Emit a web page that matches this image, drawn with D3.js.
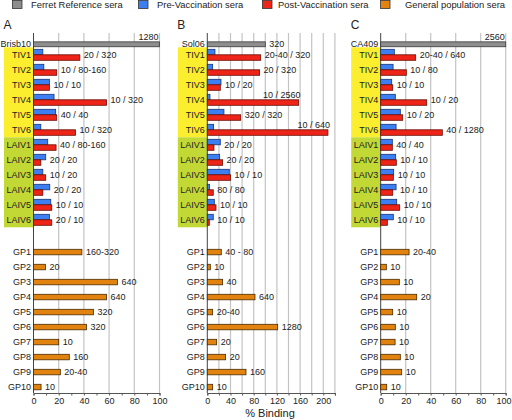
<!DOCTYPE html>
<html><head><meta charset="utf-8">
<script src="https://cdn.jsdelivr.net/npm/d3@7"></script>
<style>
html,body{margin:0;padding:0;background:#fff;}
text{font-family:"Liberation Sans",Arial,sans-serif;fill:#222;}
</style></head>
<body>
<svg id="chart" width="512" height="420"></svg>
<script>
// ---------- DATA ----------
const panelLetters = ["A", "B", "C"];
const refNames = ["Brisb10", "Sol06", "CA409"];
const refValues = [100, 100, 100];
const refTiters = ["1280", "320", "2560"];
const vaccinees = ["TIV1","TIV2","TIV3","TIV4","TIV5","TIV6","LAIV1","LAIV2","LAIV3","LAIV4","LAIV5","LAIV6"];
const gpNames = ["GP1","GP2","GP3","GP4","GP5","GP6","GP7","GP8","GP9","GP10"];

const preA  = [7.4, 8.2, 12.6, 16.3, 17.6, 5.8, 11.3, 9.7, 7.4, 12.9, 13.7, 12.6];
const postA = [36.8, 18.4, 12.6, 58, 18.4, 33.4, 17.9, 5.8, 9.7, 7.4, 14.5, 14.5];
const titersA = ["20 / 320","10 / 80-160","10 / 10","10 / 320","40 / 40","10 / 320","40 / 80-160","20 / 20","10 / 20","20 / 20","10 / 10","20 / 10"];
const gpA = [38.4, 9.5, 66.6, 57.9, 47.6, 42.1, 20, 28.4, 21.3, 6];
const gpTitersA = ["160-320","20","640","640","320","320","10","160","20-40","10"];

const preB  = [13.2, 9.2, 23.6, 4.6, 28.7, 10.9, 22.4, 21.3, 37.9, 4, 12.1, 10.3];
const postB = [92, 90.2, 22.4, 157.5, 57.5, 208, 11.5, 26.4, 40.2, 10.3, 15, 3.4];
const titersB = ["20-40 / 320","20 / 320","10 / 20","10 / 2560","320 / 320","10 / 640","20 / 20","20 / 20","10 / 10","80 / 80","10 / 10","10 / 10"];
const gpB = [24.1, 5.2, 26.4, 82.2, 9.2, 121.3, 16.1, 31.6, 66.7, 9.2];
const gpTitersB = ["40 - 80","10","40","640","20-40","1280","20","20","160","10"];

const preC  = [10.9, 9.9, 8.8, 11.7, 15.7, 12.3, 9.3, 12, 10.4, 12.3, 12.8, 10.1];
const postC = [28, 20.5, 9.6, 36.8, 17.6, 49.3, 9.3, 12.5, 10.1, 9.6, 15.2, 5.3];
const titersC = ["20-40 / 640","10 / 80","10 / 10","10 / 20","10 / 20","40 / 1280","40 / 40","10 / 10","10 / 10","10 / 10","10 / 10","10 / 10"];
const gpC = [22.7, 4.5, 14.9, 28.8, 9.6, 11.7, 11.5, 15.7, 16.8, 4.8];
const gpTitersC = ["20-40","10","10","20","10","10","10","10","10","10"];

const axisMax = [100, 220, 100];
const tickValues = [[0,20,40,60,80,100],[0,40,80,120,160,200],[0,20,40,60,80,100]];
const legendLabels = ["Ferret Reference sera","Pre-Vaccination sera","Post-Vaccination sera","General population sera"];

// ---------- STYLE / LAYOUT ----------
const colors = {
  ref:  {fill:"#8e8e8e", stroke:"#3a3a3a"},
  pre:  {fill:"#3b7ff2", stroke:"#15337a"},
  post: {fill:"#ee2418", stroke:"#6a0d08"},
  gp:   {fill:"#e3830f", stroke:"#4a2a00"}
};
const yellow = "#fbee2e", green = "#c2d935";
const panelX = [[33.5, 159.5], [207.3, 334.9], [380.7, 505.7]];
const gridTop = 33, axisY = 393;
const barH = 5.5;

const pre = [preA, preB, preC], post = [postA, postB, postC], titers = [titersA, titersB, titersC];
const gp = [gpA, gpB, gpC], gpTiters = [gpTitersA, gpTitersB, gpTitersC];

// slot -> y
const y = d3.scaleLinear().domain([0, 1]).range([54.8, 69.8]);
const refSlot = -0.7;
const vacSlot = i => i;
const gpSlot = i => 13.15 + i;

const svg = d3.select("#chart");
const FONT = '"Liberation Sans", Arial, sans-serif';

const measure = svg.append("text").attr("font-size", 9).attr("x", -1000).attr("y", -1000);
function textW(s) { measure.text(s); return measure.node().getComputedTextLength(); }

// ---------- LEGEND ----------
const legendX = [12, 138, 262, 380];
const legendKeys = ["ref", "pre", "post", "gp"];
const legendTextX = [31, 157, 278, 405];
legendLabels.forEach((lab, i) => {
  svg.append("rect").attr("x", legendX[i] + 0.5).attr("y", 0.5).attr("width", 9.5).attr("height", 8)
    .attr("fill", colors[legendKeys[i]].fill).attr("stroke", "#333").attr("stroke-width", 0.8);
  svg.append("text").attr("x", legendTextX[i]).attr("y", 8).attr("font-size", 9.4).text(lab);
});

// ---------- PANELS ----------
panelLetters.forEach((letter, p) => {
  const x = d3.scaleLinear().domain([0, axisMax[p]]).range(panelX[p]);
  const g = svg.append("g");
  const x0 = x(0), xEnd = x(axisMax[p]);

  g.append("text").attr("x", x0 - 30).attr("y", 29).attr("font-size", 12).text(letter);

  // group boxes
  g.append("rect").attr("x", x0 - 29.5).attr("width", 29.5)
    .attr("y", y(vacSlot(0)) - 7.5).attr("height", y(vacSlot(5)) - y(vacSlot(0)) + 15).attr("fill", yellow);
  g.append("rect").attr("x", x0 - 29.5).attr("width", 29.5)
    .attr("y", y(vacSlot(6)) - 7.5).attr("height", y(vacSlot(11)) - y(vacSlot(6)) + 15).attr("fill", green);

  // gridlines
  const grid = d3.range(20, axisMax[p] + 0.001, 20);
  g.selectAll(".grid").data(grid).enter().append("line")
    .attr("x1", d => x(d)).attr("x2", d => x(d)).attr("y1", gridTop).attr("y2", axisY)
    .attr("stroke", "#c4c4c4").attr("stroke-width", 1.2);

  // bottom axis
  const minorStep = p === 1 ? 20 : 10;
  const ax = d3.axisBottom(x).tickValues(d3.range(0, axisMax[p] + 0.001, minorStep))
    .tickSize(2.5).tickFormat(d => tickValues[p].includes(d) ? d : "");
  const axG = g.append("g").attr("transform", `translate(0,${axisY})`).call(ax);
  axG.select(".domain").attr("stroke", "#555");
  axG.selectAll(".tick line").attr("stroke", "#555");
  axG.selectAll(".tick text").attr("font-size", 9).attr("font-family", FONT).attr("fill", "#222").attr("dy", "0.6em")
    .attr("dx", function(d) {
      // keep the last label inside the picture
      const px = x(d), w = this.getComputedTextLength();
      return px + w / 2 > 511 ? (511 - w / 2 - px) : 0;
    });

  // vertical axis line
  g.append("line").attr("x1", x0).attr("x2", x0).attr("y1", gridTop).attr("y2", axisY)
    .attr("stroke", "#444").attr("stroke-width", 1);

  const rowLabel = (txt, yy) => g.append("text").attr("x", x0 - 2.5).attr("y", yy)
    .attr("text-anchor", "end").attr("dominant-baseline", "central").attr("font-size", 9).text(txt);

  function valueLabel(txt, barEnd, barTop, yy) {
    const w = textW(txt);
    if (barEnd + 4 + w > xEnd + 2) {
      g.append("text").attr("x", Math.min(barEnd + 2, xEnd - 1)).attr("y", barTop - 1.5)
        .attr("text-anchor", "end").attr("font-size", 9).text(txt);
    } else {
      g.append("text").attr("x", barEnd + 4).attr("y", yy)
        .attr("dominant-baseline", "central").attr("font-size", 9).text(txt);
    }
  }

  function bar(v, yTop, h, key) {
    g.append("rect").attr("x", x0).attr("y", yTop).attr("width", Math.max(0, x(v) - x0)).attr("height", h)
      .attr("fill", colors[key].fill).attr("stroke", colors[key].stroke).attr("stroke-width", 0.8);
  }

  const ry = y(refSlot);
  bar(refValues[p], ry - barH / 2 + 0.3, barH - 0.6, "ref");
  rowLabel(refNames[p], ry);
  valueLabel(refTiters[p], x(refValues[p]), ry - barH / 2, ry);

  vaccinees.forEach((name, i) => {
    const cy = y(vacSlot(i));
    bar(pre[p][i], cy - barH, barH, "pre");
    bar(post[p][i], cy, barH, "post");
    rowLabel(name, cy);
    const mx = Math.max(pre[p][i], post[p][i]);
    const top = post[p][i] >= pre[p][i] ? cy : cy - barH;
    valueLabel(titers[p][i], x(mx), top, cy);
  });

  gpNames.forEach((name, i) => {
    const cy = y(gpSlot(i));
    bar(gp[p][i], cy - barH / 2, barH, "gp");
    rowLabel(name, cy);
    valueLabel(gpTiters[p][i], x(gp[p][i]), cy - barH / 2, cy);
  });
});

svg.append("text").attr("x", 270).attr("y", 417).attr("text-anchor", "middle").attr("font-size", 11).text("% Binding");
measure.remove();
</script>
</body></html>
